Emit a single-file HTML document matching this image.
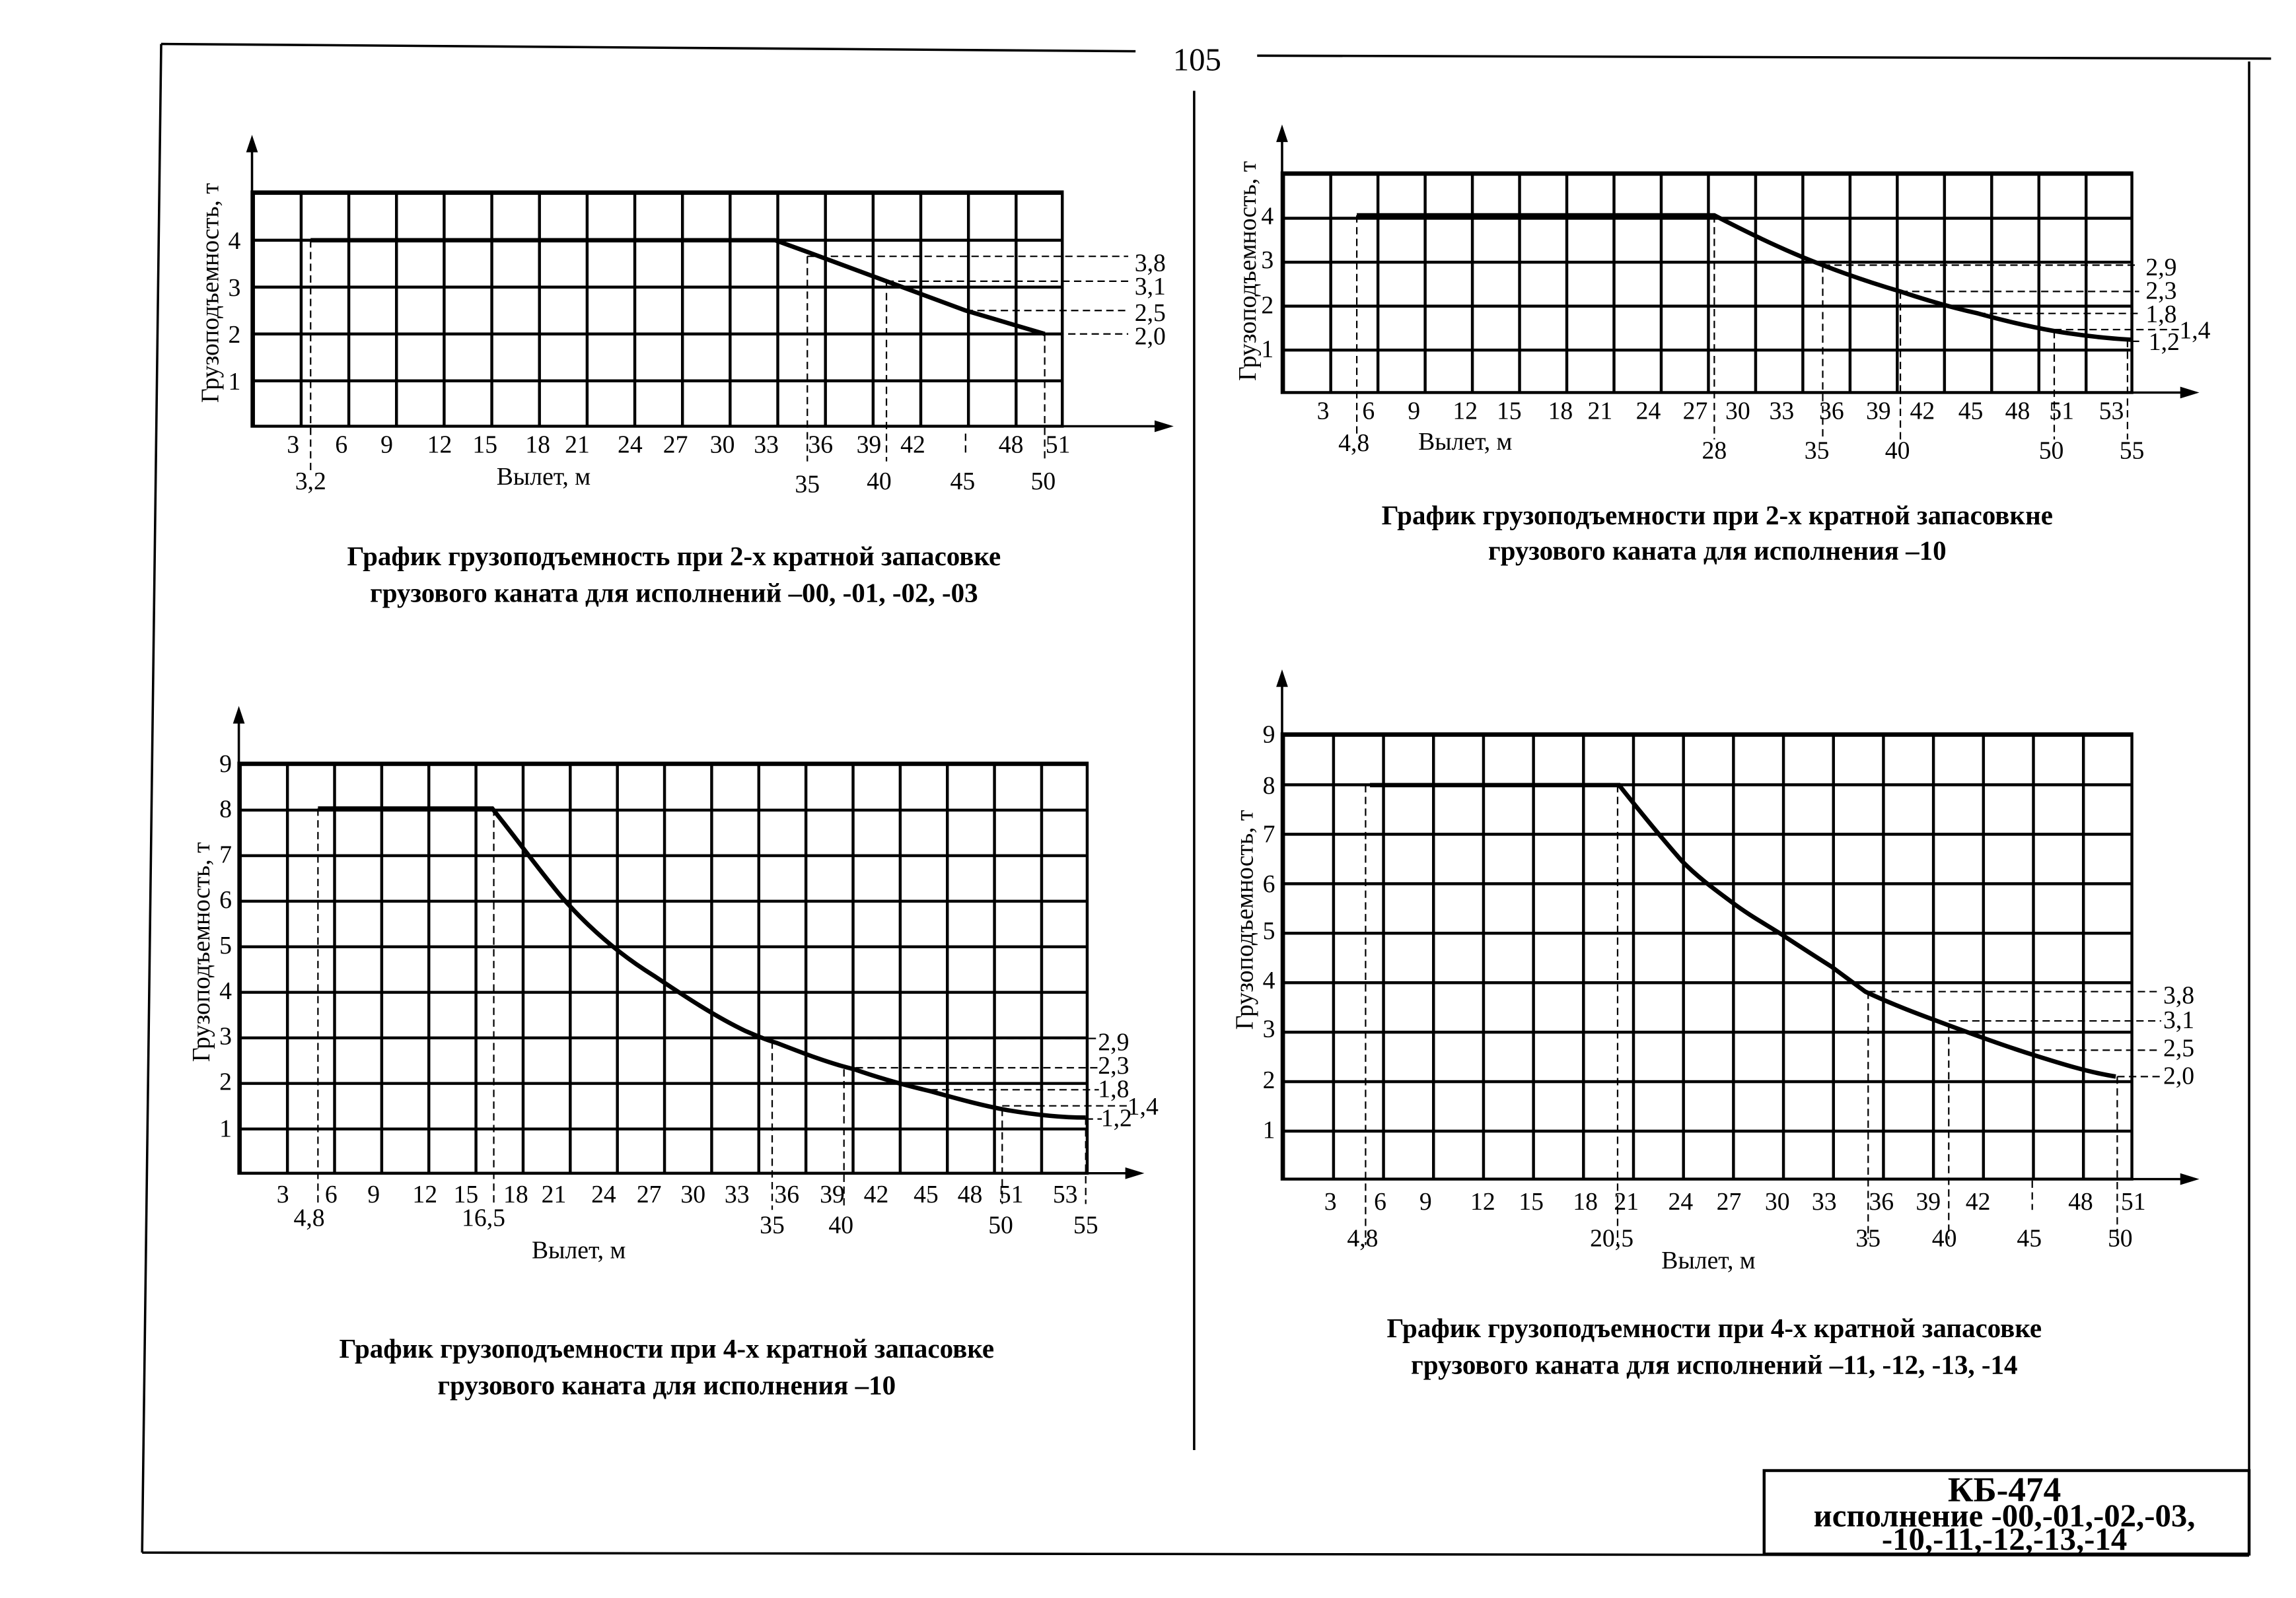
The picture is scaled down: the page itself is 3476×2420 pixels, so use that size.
<!DOCTYPE html>
<html><head><meta charset="utf-8"><style>
html,body{margin:0;padding:0;background:#fff}
svg{display:block}
text{font-family:"Liberation Serif","Noto Serif CJK SC",serif;fill:#000}
.t{font-size:17px}
.c{font-size:18.5px;font-weight:bold}
</style></head><body>
<svg width="3476" height="2420" viewBox="0 0 1567 1091" preserveAspectRatio="none" xmlns="http://www.w3.org/2000/svg">
<defs>
<pattern id="g1" patternUnits="userSpaceOnUse" x="172" y="131" width="32.53" height="32"><path d="M0 0H32.53M0 0V32" stroke="#000" stroke-width="4" fill="none"/></pattern>
<pattern id="g2" patternUnits="userSpaceOnUse" x="875" y="118" width="32.22" height="30"><path d="M0 0H32.22M0 0V30" stroke="#000" stroke-width="4" fill="none"/></pattern>
<pattern id="g3" patternUnits="userSpaceOnUse" x="163" y="521" width="32.17" height="31.1"><path d="M0 0H32.17M0 0V31.1" stroke="#000" stroke-width="4" fill="none"/></pattern>
<pattern id="g4" patternUnits="userSpaceOnUse" x="875" y="501" width="34.12" height="33.78"><path d="M0 0H34.12M0 0V33.78" stroke="#000" stroke-width="4" fill="none"/></pattern>
</defs>
<g stroke="#000" fill="none" stroke-width="1.6">
<path d="M110 30L775 35"/><path d="M858 38L1550 40"/>
<path d="M110 30L97 1060"/><path d="M97 1060L1535 1062"/><path d="M1535 42V1062"/>
<path d="M815 62V990"/>
<rect x="1204" y="1004" width="331" height="57" stroke-width="2"/>
</g>
<text x="817" y="48" text-anchor="middle" style="font-size:22px">105</text>
<text x="1368" y="1025" text-anchor="middle" style="font-size:24px;font-weight:bold">КБ-474</text>
<text x="1368" y="1042" text-anchor="middle" style="font-size:22px;font-weight:bold">исполнение -00,-01,-02,-03,</text>
<text x="1368" y="1058" text-anchor="middle" style="font-size:22px;font-weight:bold">-10,-11,-12,-13,-14</text>

<!-- Chart 1 -->
<rect x="172" y="131" width="553" height="160" fill="url(#g1)" stroke="#000" stroke-width="2"/>
<g stroke="#000" stroke-width="1.6" fill="none">
<path d="M172 291V95M172 291H795"/>
</g>
<path d="M168 104L172 92L176 104Z"/><path d="M788 287L801 291L788 295Z"/>
<path d="M212 164H529L551 172L605 192L659 212L713 228" stroke="#000" stroke-width="3" fill="none"/>
<g stroke="#000" stroke-width="1" stroke-dasharray="5,3" fill="none">
<path d="M212 164V322M551 175V315M605 192V315M659 296V312M713 228V315"/>
<path d="M551 175H770M605 192H770M659 212H770M713 228H770"/>
</g>
<g class="t">
<text x="160" y="170" text-anchor="middle">4</text><text x="160" y="202" text-anchor="middle">3</text>
<text x="160" y="234" text-anchor="middle">2</text><text x="160" y="266" text-anchor="middle">1</text>
<text x="785" y="185" text-anchor="middle">3,8</text><text x="785" y="201" text-anchor="middle">3,1</text>
<text x="785" y="219" text-anchor="middle">2,5</text><text x="785" y="235" text-anchor="middle">2,0</text>
<g text-anchor="middle">
<text x="200" y="309">3</text><text x="233" y="309">6</text><text x="264" y="309">9</text><text x="300" y="309">12</text><text x="331" y="309">15</text><text x="367" y="309">18</text><text x="394" y="309">21</text><text x="430" y="309">24</text><text x="461" y="309">27</text><text x="493" y="309">30</text><text x="523" y="309">33</text><text x="560" y="309">36</text><text x="593" y="309">39</text><text x="623" y="309">42</text><text x="690" y="309">48</text><text x="722" y="309">51</text>
<text x="212" y="334">3,2</text><text x="551" y="336">35</text><text x="600" y="334">40</text><text x="657" y="334">45</text><text x="712" y="334">50</text>
<text x="371" y="331">Вылет, м</text>
</g>
<text transform="translate(149,200) rotate(-90)" text-anchor="middle">Грузоподъемность, т</text>
</g>
<text class="c" x="460" y="386" text-anchor="middle">График грузоподъемность при 2-х кратной запасовке</text>
<text class="c" x="460" y="411" text-anchor="middle">грузового каната для исполнений –00, -01, -02, -03</text>

<!-- Chart 2 -->
<rect x="875" y="118" width="580" height="150" fill="url(#g2)" stroke="#000" stroke-width="2"/>
<g stroke="#000" stroke-width="1.6" fill="none"><path d="M875 268V88M875 268H1495"/></g>
<path d="M871 97L875 85L879 97Z"/><path d="M1488 264L1501 268L1488 272Z"/>
<path d="M926 147H1170C1195 160 1220 172 1244 181C1262 188 1280 194 1297 199C1315 205 1332 210 1350 214C1368 219 1385 223 1402 226C1420 229 1438 231 1455 232" stroke="#000" stroke-width="3" fill="none"/>
<g stroke="#000" stroke-width="1" stroke-dasharray="5,3" fill="none">
<path d="M926 147V296M1170 147V300M1244 181V300M1297 199V300M1402 226V300M1452 232V300"/>
<path d="M1244 181H1460M1297 199H1460M1350 214H1460M1402 225H1490M1455 233H1462"/>
</g>
<g class="t" text-anchor="middle">
<text x="865" y="153">4</text><text x="865" y="183">3</text><text x="865" y="214">2</text><text x="865" y="244">1</text>
<text x="1475" y="188">2,9</text><text x="1475" y="204">2,3</text><text x="1475" y="220">1,8</text><text x="1498" y="231">1,4</text><text x="1477" y="239">1,2</text>
<text x="903" y="286">3</text><text x="934" y="286">6</text><text x="965" y="286">9</text><text x="1000" y="286">12</text><text x="1030" y="286">15</text><text x="1065" y="286">18</text><text x="1092" y="286">21</text><text x="1125" y="286">24</text><text x="1157" y="286">27</text><text x="1186" y="286">30</text><text x="1216" y="286">33</text><text x="1250" y="286">36</text><text x="1282" y="286">39</text><text x="1312" y="286">42</text><text x="1345" y="286">45</text><text x="1377" y="286">48</text><text x="1407" y="286">51</text><text x="1441" y="286">53</text>
<text x="924" y="308">4,8</text><text x="1000" y="307">Вылет, м</text><text x="1170" y="313">28</text><text x="1240" y="313">35</text><text x="1295" y="313">40</text><text x="1400" y="313">50</text><text x="1455" y="313">55</text>
<text transform="translate(857,185) rotate(-90)">Грузоподъемность, т</text>
</g>
<text class="c" x="1172" y="358" text-anchor="middle">График грузоподъемности при 2-х кратной запасовкне</text>
<text class="c" x="1172" y="382" text-anchor="middle">грузового каната для исполнения –10</text>

<!-- Chart 3 -->
<rect x="163" y="521" width="579" height="280" fill="url(#g3)" stroke="#000" stroke-width="2"/>
<g stroke="#000" stroke-width="1.6" fill="none"><path d="M163 801V485M163 801H775"/></g>
<path d="M159 494L163 482L167 494Z"/><path d="M768 797L781 801L768 805Z"/>
<path d="M217 552H336C352 572 368 594 383 612C404 636 425 653 446 666C467 680 488 694 509 704C516 707 523 710 530 712C548 719 566 726 583 730C600 736 618 741 635 745C653 750 671 755 688 758C706 761 723 763 741 763" stroke="#000" stroke-width="3" fill="none"/>
<g stroke="#000" stroke-width="1" stroke-dasharray="5,3" fill="none">
<path d="M217 552V822M337 552V822M527 711V826M576 730V826M684 757V822M741 763V822"/>
<path d="M527 709H750M576 729H750M635 744H750M684 755H770M741 764H752"/>
</g>
<g class="t" text-anchor="middle">
<text x="154" y="527">9</text><text x="154" y="558">8</text><text x="154" y="589">7</text><text x="154" y="620">6</text><text x="154" y="651">5</text><text x="154" y="682">4</text><text x="154" y="713">3</text><text x="154" y="744">2</text><text x="154" y="776">1</text>
<text x="760" y="717">2,9</text><text x="760" y="733">2,3</text><text x="760" y="749">1,8</text><text x="780" y="761">1,4</text><text x="762" y="769">1,2</text>
<text x="193" y="821">3</text><text x="226" y="821">6</text><text x="255" y="821">9</text><text x="290" y="821">12</text><text x="318" y="821">15</text><text x="352" y="821">18</text><text x="378" y="821">21</text><text x="412" y="821">24</text><text x="443" y="821">27</text><text x="473" y="821">30</text><text x="503" y="821">33</text><text x="537" y="821">36</text><text x="568" y="821">39</text><text x="598" y="821">42</text><text x="632" y="821">45</text><text x="662" y="821">48</text><text x="690" y="821">51</text><text x="727" y="821">53</text>
<text x="211" y="837">4,8</text><text x="330" y="837">16,5</text><text x="527" y="842">35</text><text x="574" y="842">40</text><text x="683" y="842">50</text><text x="741" y="842">55</text>
<text x="395" y="859">Вылет, м</text>
<text transform="translate(143,650) rotate(-90)">Грузоподъемность, т</text>
</g>
<text class="c" x="455" y="927" text-anchor="middle">График грузоподъемности при 4-х кратной запасовке</text>
<text class="c" x="455" y="952" text-anchor="middle">грузового каната для исполнения –10</text>

<!-- Chart 4 -->
<rect x="875" y="501" width="580" height="304" fill="url(#g4)" stroke="#000" stroke-width="2"/>
<g stroke="#000" stroke-width="1.6" fill="none"><path d="M875 805V460M875 805H1495"/></g>
<path d="M871 469L875 457L879 469Z"/><path d="M1488 801L1501 805L1488 809Z"/>
<path d="M935 536H1105C1120 555 1134 572 1148 588C1160 600 1170 607 1182 616C1194 625 1205 631 1216 638C1228 646 1239 653 1250 660C1258 666 1265 671 1273 677C1292 686 1311 693 1330 700C1349 707 1368 714 1387 720C1406 726 1425 732 1444 735" stroke="#000" stroke-width="3" fill="none"/>
<g stroke="#000" stroke-width="1" stroke-dasharray="5,3" fill="none">
<path d="M932 536V850M1104 536V850M1275 677V846M1330 700V846M1387 806V826M1445 735V846"/>
<path d="M1275 677H1475M1330 697H1475M1387 717H1475M1445 735H1475"/>
</g>
<g class="t" text-anchor="middle">
<text x="866" y="507">9</text><text x="866" y="542">8</text><text x="866" y="575">7</text><text x="866" y="609">6</text><text x="866" y="641">5</text><text x="866" y="675">4</text><text x="866" y="708">3</text><text x="866" y="743">2</text><text x="866" y="777">1</text>
<text x="1487" y="685">3,8</text><text x="1487" y="702">3,1</text><text x="1487" y="721">2,5</text><text x="1487" y="740">2,0</text>
<text x="908" y="826">3</text><text x="942" y="826">6</text><text x="973" y="826">9</text><text x="1012" y="826">12</text><text x="1045" y="826">15</text><text x="1082" y="826">18</text><text x="1110" y="826">21</text><text x="1147" y="826">24</text><text x="1180" y="826">27</text><text x="1213" y="826">30</text><text x="1245" y="826">33</text><text x="1284" y="826">36</text><text x="1316" y="826">39</text><text x="1350" y="826">42</text><text x="1420" y="826">48</text><text x="1456" y="826">51</text>
<text x="930" y="851">4,8</text><text x="1100" y="851">20,5</text><text x="1275" y="851">35</text><text x="1327" y="851">40</text><text x="1385" y="851">45</text><text x="1447" y="851">50</text>
<text x="1166" y="866">Вылет, м</text>
<text transform="translate(855,628) rotate(-90)">Грузоподъемность, т</text>
</g>
<text class="c" x="1170" y="913" text-anchor="middle">График грузоподъемности при 4-х кратной запасовке</text>
<text class="c" x="1170" y="938" text-anchor="middle">грузового каната для исполнений –11, -12, -13, -14</text>
</svg>
</body></html>
